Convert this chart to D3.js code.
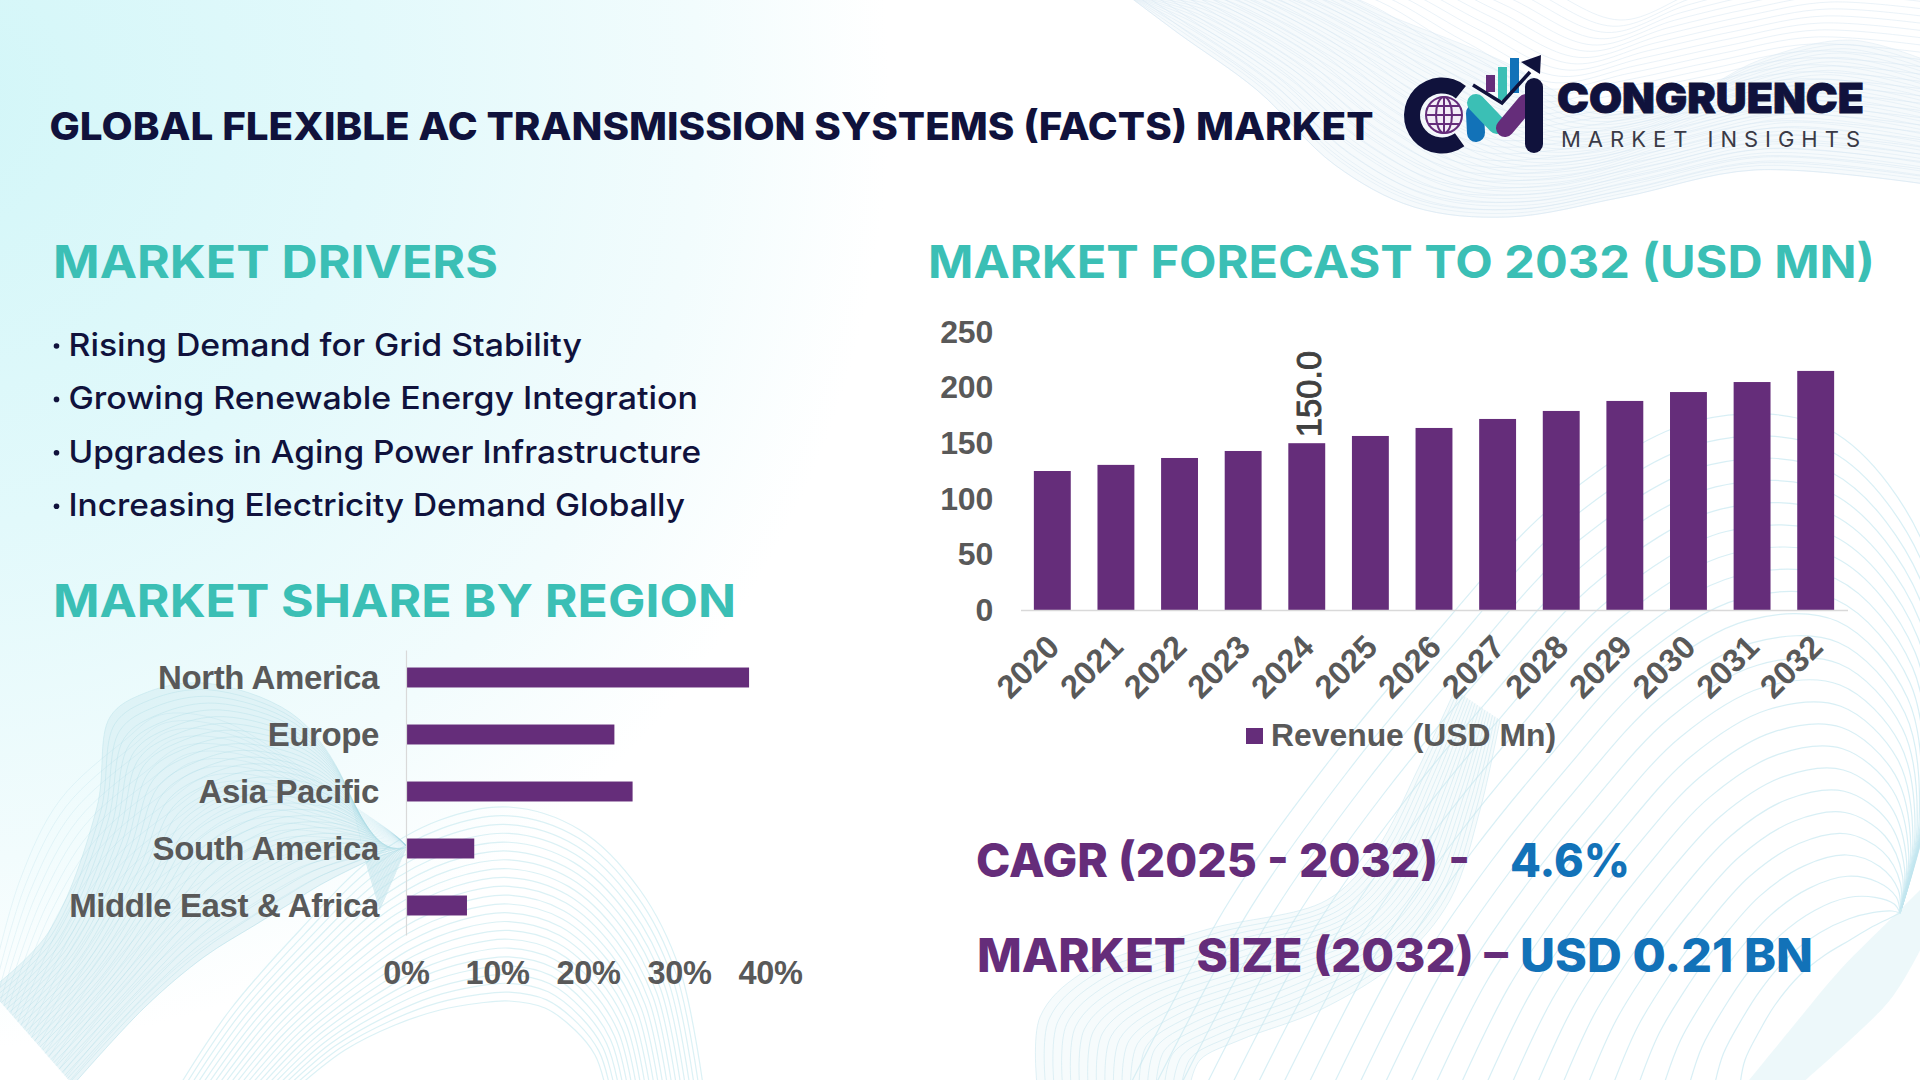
<!DOCTYPE html>
<html><head><meta charset="utf-8">
<script src="https://cdn.jsdelivr.net/npm/d3@7/dist/d3.min.js"></script>
<style>html,body{margin:0;padding:0;background:#fff;overflow:hidden}svg{display:block}</style>
</head><body><svg id="c" width="1920" height="1080" viewBox="0 0 1920 1080"></svg>
<script>
// ---- chart data ----
const years = [2020,2021,2022,2023,2024,2025,2026,2027,2028,2029,2030,2031,2032];
const revenue = [125,130.5,136.7,143,150,156.5,163.7,171.8,179,188,196,205,215];
const labelledYears = [2024];
const revenueTicks = [0,50,100,150,200,250];
const regions = ["North America","Europe","Asia Pacific","South America","Middle East & Africa"];
const regionShare = [37.7,22.9,24.9,7.5,6.7];
const shareTicks = [0,10,20,30,40];
const drivers = ["Rising Demand for Grid Stability","Growing Renewable Energy Integration","Upgrades in Aging Power Infrastructure","Increasing Electricity Demand Globally"];
const driverWidths = [513,629,632,616];
const seriesName = "Revenue (USD Mn)";

const NAVY="#10123c",TEAL="#3bbfb5",PURPLE="#652d7a",BLUE="#1272b8",GRAY="#595959";
const HEAD='Inter, "Open Sans", sans-serif', CHART='"Liberation Sans", Arial, sans-serif';
const svg=d3.select("#c");
const defs=svg.append("defs");

// ---- decorative background ----
const g0=defs.append("radialGradient").attr("id","bgGrad").attr("gradientUnits","userSpaceOnUse")
  .attr("cx",-60).attr("cy",100).attr("r",950);
[[0,"#d2f6f8"],[.45,"#e2f9fb"],[.8,"#f2fcfd"],[1,"#ffffff"]].forEach(s=>g0.append("stop").attr("offset",s[0]).attr("stop-color",s[1]));
svg.append("rect").attr("width",1920).attr("height",1080).attr("fill","#fff");
svg.append("rect").attr("width",1920).attr("height",1080).attr("fill","url(#bgGrad)");
const bg=svg.append("g").attr("fill","none");
const curve=d3.line().curve(d3.curveCatmullRom.alpha(.5));
function family(A,B,n,color,op,w){
  for(let k=0;k<=n;k++){const t=k/n;
    bg.append("path").attr("d",curve(A.map((p,i)=>[p[0]*(1-t)+B[i][0]*t,p[1]*(1-t)+B[i][1]*t])))
      .attr("stroke",color).attr("stroke-opacity",op).attr("stroke-width",w);}
}
function band(A,B,color,op){
  bg.append("path").attr("d",curve(A)+"L"+curve(B.slice().reverse()).slice(1)+"Z").attr("fill",color).attr("fill-opacity",op);
}
// top-right mesh
const trLow=[[1126,-6],[1178,33],[1257,90],[1335,165],[1414,207],[1508,217],[1623,197],[1754,170],[1925,184]];
const trUp=[[1290,-70],[1370,-60],[1450,-50],[1530,-20],[1620,20],[1700,-10],[1780,-30],[1850,-40],[1960,-30]];
const trUp2=[[1126,-6],[1250,-40],[1400,20],[1500,60],[1600,110],[1680,100],[1760,60],[1850,40],[1925,60]];
band(trLow,trUp2,"#e6f0f7",.35);
family(trLow,trUp,30,"#d8e7f2",.55,1);
family(trLow,trUp2,30,"#d8e7f2",.45,1);
// bottom-right arches and shoulder
const archA=[[1130,1085],[1230,900],[1330,760],[1430,640],[1560,500],[1700,420],[1830,430],[1930,560],[1940,750],[1900,913]];
const archB=[[1740,1085],[1745,1060],[1760,1030],[1775,1005],[1800,975],[1825,955],[1850,940],[1870,928],[1890,918],[1900,913]];
family(archA,archB,24,"#c3e7ef",.65,1.2);
const shA=[[1037,1085],[1040,1017],[1082,973],[1205,930],[1327,900],[1376,850],[1419,767],[1455,690]];
const shB=[[1190,1085],[1200,1060],[1240,1040],[1320,1010],[1400,960],[1450,900],[1480,810],[1500,720]];
band(shA,shB,"#d6edf3",.22);
family(shA,shB,18,"#c8e6ee",.55,1);
const brR1=[[1745,1085],[1790,1030],[1840,970],[1897,913],[1930,880]];
const brR2=[[1800,1085],[1850,1040],[1890,1000],[1915,960],[1930,930]];
band(brR1,brR2,"#d8eff4",.45);
// bottom-left ribbon + domes
const blC=[[180,1085],[230,1010],[300,930],[370,860],[440,820],[509,807],[580,830],[640,890],[680,970],[703,1085]];
const blD=[[300,1085],[345,1050],[395,1025],[440,1010],[480,1003],[509,1001],[545,1008],[575,1030],[595,1055],[605,1085]];
family(blC,blD,22,"#c3e7ef",.6,1.2);
const blA=[[-10,990],[48,933],[97,807],[110,717],[145,693],[204,683],[291,713],[340,773],[369,873],[380,910]];
const blB=[[73,1085],[145,1007],[204,957],[255,925],[291,903],[320,885],[349,870],[375,858],[407,847],[407,847]];
const blA2=[[-10,990],[20,880],[60,800],[125,740],[160,715],[220,720],[290,760],[345,800],[395,835],[407,847]];
band(blA,blB,"#cfe9f0",.45);
family(blA,blB,30,"#a3d6e2",.3,1);
family(blA2,blB,24,"#a3d6e2",.22,1);

// ---- text helper ----
function txt(s,x,y,size,weight,fill,font,len,adj){
  const t=svg.append("text").attr("x",x).attr("y",y).attr("font-size",size).attr("font-weight",weight)
    .attr("fill",fill).attr("font-family",font).text(s);
  if(len) t.attr("textLength",len).attr("lengthAdjust",adj||"spacingAndGlyphs");
  return t;
}
txt("GLOBAL FLEXIBLE AC TRANSMISSION SYSTEMS (FACTS) MARKET",49.5,139.5,38.5,800,NAVY,HEAD,1324);
txt("MARKET DRIVERS",53,277.5,45.5,700,TEAL,HEAD,445);
txt("MARKET SHARE BY REGION",53,617,45.5,700,TEAL,HEAD,683);
txt("MARKET FORECAST TO 2032 (USD MN)",928,277.5,45.5,700,TEAL,HEAD,947);
drivers.forEach((d,i)=>{
  const y=356+i*53.4;
  svg.append("circle").attr("cx",56.5).attr("cy",y-10).attr("r",2.8).attr("fill",NAVY);
  txt(d,68.5,y,31.5,500,NAVY,HEAD,driverWidths[i]+0.5);
});
txt("CAGR (2025 - 2032) -",976,877,46,800,PURPLE,HEAD,494);
txt("4.6%",1510,877,46,800,BLUE,HEAD,120);
txt("MARKET SIZE (2032) \u2013",977,972,46,800,PURPLE,HEAD,531);
txt("USD 0.21 BN",1520,972,46,800,BLUE,HEAD,293);

// ---- revenue bar chart ----
const x=d3.scaleBand().domain(years).range([1020.5,1847.5]).paddingInner(.42).paddingOuter(.21);
const y=d3.scaleLinear().domain([0,250]).range([610,332]);
svg.append("g").selectAll("rect").data(years).join("rect")
  .attr("x",d=>x(d)).attr("width",x.bandwidth())
  .attr("y",(d,i)=>y(revenue[i])).attr("height",(d,i)=>y(0)-y(revenue[i])).attr("fill",PURPLE);
const yA=svg.append("g").attr("transform","translate(1000,0)").call(d3.axisLeft(y).tickValues(revenueTicks).tickSize(0).tickPadding(7));
yA.select(".domain").remove();
const xA=svg.append("g").attr("transform","translate(0,610)").call(d3.axisBottom(x).tickSize(0).tickFormat(d3.format("d")));
xA.select(".domain").attr("stroke","#d9d9d9").attr("stroke-width",1.5);
xA.selectAll("text").attr("text-anchor","end").attr("dy",0).attr("y",0)
  .attr("transform",`translate(9,39) rotate(-45)`);
yA.selectAll("text").attr("font-size",32).attr("letter-spacing","-0.2px");
xA.selectAll("text").attr("font-size",32.5);
[yA,xA].forEach(a=>a.selectAll("text").attr("font-family",CHART).attr("font-weight",700).attr("fill",GRAY));
svg.append("g").selectAll("text").data(labelledYears).join("text")
  .attr("transform",d=>`translate(${x(d)+x.bandwidth()/2+14},${y(revenue[years.indexOf(d)])-6}) rotate(-90)`)
  .attr("font-family",CHART).attr("font-size",34.5).attr("fill","#404040").attr("stroke","#404040").attr("stroke-width",.9)
  .text(d=>d3.format(".1f")(revenue[years.indexOf(d)]));
svg.append("rect").attr("x",1246).attr("y",728).attr("width",17).attr("height",16).attr("fill",PURPLE);
txt(seriesName,1271,746,31.5,700,GRAY,CHART,285);

// ---- region bar chart ----
const sx=d3.scaleLinear().domain([0,40]).range([406,770]);
const sy=d3.scaleBand().domain(regions).range([649,934]).paddingInner(.65).paddingOuter(.325);
svg.append("g").selectAll("rect").data(regions).join("rect")
  .attr("x",sx(0)).attr("y",d=>sy(d)).attr("height",sy.bandwidth())
  .attr("width",(d,i)=>sx(regionShare[i])-sx(0)).attr("fill",PURPLE);
const syA=svg.append("g").attr("transform","translate(406,1)").call(d3.axisLeft(sy).tickSize(0).tickPadding(27));
syA.select(".domain").attr("stroke","#d9d9d9").attr("stroke-width",1.2);
const sxA=svg.append("g").attr("transform","translate(0,961)").call(d3.axisBottom(sx).tickValues(shareTicks).tickSize(0).tickPadding(0).tickFormat(d=>d+"%"));
sxA.select(".domain").remove();
syA.selectAll("text").attr("font-size",33).attr("letter-spacing","-0.4px");
sxA.selectAll("text").attr("font-size",32.5).attr("letter-spacing","-0.3px");
[syA,sxA].forEach(a=>a.selectAll("text").attr("font-family",CHART).attr("font-weight",700).attr("fill",GRAY));

// ---- logo ----
const L=svg.append("g");
const arc=d3.arc();
L.append("path").attr("transform","translate(1442,115.5)").attr("fill",NAVY)
  .attr("d",arc({innerRadius:22,outerRadius:38,startAngle:144*Math.PI/180,endAngle:399*Math.PI/180}));
const gl=L.append("g").attr("transform","translate(1444,115)").attr("fill","none").attr("stroke",PURPLE).attr("stroke-width",2);
gl.append("circle").attr("r",18).attr("fill","#f3eef7");
gl.append("ellipse").attr("rx",8).attr("ry",18);
gl.append("line").attr("y1",-18).attr("y2",18);
[-9,0,9].forEach(v=>gl.append("line").attr("x1",-Math.sqrt(324-v*v)).attr("x2",Math.sqrt(324-v*v)).attr("y1",v).attr("y2",v));
[[1486,75,9,17,PURPLE],[1498,67,9,33,TEAL],[1510,58,9,35,BLUE]].forEach(b=>L.append("rect").attr("x",b[0]).attr("y",b[1]).attr("width",b[2]).attr("height",b[3]).attr("fill",b[4]));
const seg=(x1,y1,x2,y2,c,w)=>L.append("line").attr("x1",x1).attr("y1",y1).attr("x2",x2).attr("y2",y2).attr("stroke",c).attr("stroke-width",w).attr("stroke-linecap","round");
seg(1475,113,1476,133,BLUE,18);
seg(1476,103,1497,125,TEAL,18);
seg(1505,128,1526,103,PURPLE,18);
seg(1534,87,1534,144,NAVY,18);
L.append("polyline").attr("points","1473,85 1502,103 1530,72").attr("fill","none").attr("stroke",NAVY).attr("stroke-width",3.5);
L.append("polygon").attr("points","1521,62 1541,55 1540,74").attr("fill",NAVY);
txt("CONGRUENCE",1557,113,41,900,NAVY,HEAD,307).attr("stroke",NAVY).attr("stroke-width",.8);
txt("MARKET INSIGHTS",1561,147,22,400,"#3a3a46",HEAD,299,"spacing");
</script></body></html>
